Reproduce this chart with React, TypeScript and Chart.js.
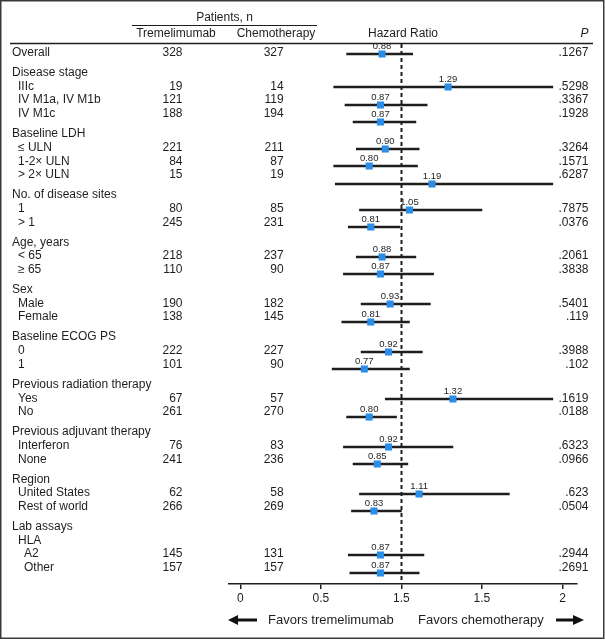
import React, { useEffect, useRef } from "react";
import { Chart, registerables } from "chart.js";

Chart.register(...registerables);

// ---------- data ----------
const rowLabels = [
  "Overall",
  "Disease stage", "IIIc", "IV M1a, IV M1b", "IV M1c",
  "Baseline LDH", "≤ ULN", "1-2× ULN", "> 2× ULN",
  "No. of disease sites", "1", "> 1",
  "Age, years", "< 65", "≥ 65",
  "Sex", "Male", "Female",
  "Baseline ECOG PS", "0", "1",
  "Previous radiation therapy", "Yes", "No",
  "Previous adjuvant therapy", "Interferon", "None",
  "Region", "United States", "Rest of world",
  "Lab assays", "HLA", "A2", "Other",
];
const rowIndent = [0, 0, 1, 1, 1, 0, 1, 1, 1, 0, 1, 1, 0, 1, 1, 0, 1, 1, 0, 1, 1, 0, 1, 1, 0, 1, 1, 0, 1, 1, 0, 1, 2, 2];
const tremeN = [328, null, 19, 121, 188, null, 221, 84, 15, null, 80, 245, null, 218, 110, null, 190, 138, null, 222, 101, null, 67, 261, null, 76, 241, null, 62, 266, null, null, 145, 157];
const chemoN = [327, null, 14, 119, 194, null, 211, 87, 19, null, 85, 231, null, 237, 90, null, 182, 145, null, 227, 90, null, 57, 270, null, 83, 236, null, 58, 269, null, null, 131, 157];
const hazardRatio = [0.88, null, 1.29, 0.87, 0.87, null, 0.9, 0.8, 1.19, null, 1.05, 0.81, null, 0.88, 0.87, null, 0.93, 0.81, null, 0.92, 0.77, null, 1.32, 0.8, null, 0.92, 0.85, null, 1.11, 0.83, null, null, 0.87, 0.87];
const ciLow = [0.66, null, 0.58, 0.65, 0.7, null, 0.72, 0.58, 0.59, null, 0.74, 0.67, null, 0.72, 0.64, null, 0.75, 0.63, null, 0.75, 0.57, null, 0.9, 0.66, null, 0.64, 0.7, null, 0.74, 0.69, null, null, 0.67, 0.68];
const ciHigh = [1.07, null, 1.94, 1.16, 1.09, null, 1.11, 1.1, 1.94, null, 1.5, 0.99, null, 1.09, 1.2, null, 1.18, 1.05, null, 1.13, 1.05, null, 1.94, 0.97, null, 1.32, 1.04, null, 1.67, 1.0, null, null, 1.14, 1.11];
const pValues = [".1267", null, ".5298", ".3367", ".1928", null, ".3264", ".1571", ".6287", null, ".7875", ".0376", null, ".2061", ".3838", null, ".5401", ".119", null, ".3988", ".102", null, ".1619", ".0188", null, ".6323", ".0966", null, ".623", ".0504", null, null, ".2944", ".2691"];
const tickValues = [0, 0.5, 1, 1.5, 2];
const tickLabels = ["0", "0.5", "1.5", "1.5", "2"];
const referenceLine = 1;

// ---------- layout ----------
const W = 605;
const H = 640;
const FONT = "'Liberation Sans', Arial, Helvetica, sans-serif";
const INK = "#1e1e1e";
const BLUE = "#2a8de6";
const PLOT_TOP = 44;
const PLOT_BOTTOM = 584;
const TEXT_STEP = 13.7;
const GROUP_GAP = 20;
const PLOT_STEP = 17.5;
const FIRST_ROW = 52.7;
const PLOT_OFFSET = 1;

function layoutRows() {
  const textY: number[] = [];
  const plotY: (number | null)[] = [];
  let y = FIRST_ROW;
  let runStart = FIRST_ROW;
  let k = 0;
  rowLabels.forEach((_, i) => {
    if (i > 0) y += rowIndent[i] === 0 ? GROUP_GAP : TEXT_STEP;
    textY.push(y);
    if (hazardRatio[i] != null) {
      if (i === 0 || hazardRatio[i - 1] == null) {
        runStart = y;
        k = 0;
      } else k++;
      plotY.push(Math.round(runStart + k * PLOT_STEP + PLOT_OFFSET));
    } else plotY.push(null);
  });
  return { textY, plotY };
}

const { textY, plotY } = layoutRows();
const dataIdx = hazardRatio.map((v, i) => (v == null ? -1 : i)).filter((i) => i >= 0);

const forestPlugin = {
  id: "forestTable",
  beforeDatasetsDraw(chart: any) {
    const ctx = chart.ctx;
    const xs = chart.scales.x;
    const x = Math.round(xs.getPixelForValue(referenceLine)) + 0.5;
    ctx.save();
    ctx.strokeStyle = INK;
    ctx.lineWidth = 2;
    ctx.setLineDash([4, 3]);
    ctx.beginPath();
    ctx.moveTo(x, chart.chartArea.top);
    ctx.lineTo(x, chart.chartArea.bottom);
    ctx.stroke();
    ctx.restore();
  },
  afterDatasetsDraw(chart: any) {
    const ctx = chart.ctx;
    const xs = chart.scales.x;
    const ys = chart.scales.y;
    ctx.save();
    ctx.fillStyle = INK;
    ctx.font = `9.5px ${FONT}`;
    ctx.textAlign = "center";
    ctx.textBaseline = "middle";
    dataIdx.forEach((i) => {
      const hr = hazardRatio[i] as number;
      ctx.fillText(hr.toFixed(2), xs.getPixelForValue(hr), ys.getPixelForValue(plotY[i]) - 8);
    });
    ctx.restore();
  },
  afterDraw(chart: any) {
    const ctx = chart.ctx;
    const ys = chart.scales.y;
    const area = chart.chartArea;
    ctx.save();
    // outer frame
    ctx.strokeStyle = "#3a3a3a";
    ctx.lineWidth = 1.5;
    ctx.strokeRect(0.75, 0.75, W - 2, H - 2.5);

    // header
    ctx.fillStyle = INK;
    ctx.textBaseline = "middle";
    ctx.font = `12px ${FONT}`;
    ctx.textAlign = "center";
    ctx.fillText("Patients, n", 224.5, 17.3);
    ctx.fillText("Tremelimumab", 176, 34);
    ctx.fillText("Chemotherapy", 276, 34);
    ctx.fillText("Hazard Ratio", 403, 34);
    ctx.textAlign = "right";
    ctx.font = `italic 12px ${FONT}`;
    ctx.fillText("P", 588.5, 34);

    ctx.strokeStyle = INK;
    ctx.lineWidth = 1;
    ctx.beginPath();
    ctx.moveTo(132, 25.5);
    ctx.lineTo(317, 25.5);
    ctx.stroke();
    ctx.lineWidth = 1.5;
    ctx.beginPath();
    ctx.moveTo(10, 43.5);
    ctx.lineTo(593, 43.5);
    ctx.stroke();

    // table rows
    ctx.font = `12px ${FONT}`;
    rowLabels.forEach((lab, i) => {
      const y = ys.getPixelForValue(textY[i]);
      ctx.textAlign = "left";
      ctx.fillText(lab, 12 + rowIndent[i] * 6, y);
      ctx.textAlign = "right";
      if (tremeN[i] != null) ctx.fillText(String(tremeN[i]), 182.5, y);
      if (chemoN[i] != null) ctx.fillText(String(chemoN[i]), 283.7, y);
      if (pValues[i] != null) ctx.fillText(pValues[i] as string, 588.5, y);
    });

    // favors row
    const ay = 620;
    ctx.font = `13px ${FONT}`;
    ctx.textAlign = "left";
    ctx.fillText("Favors tremelimumab", 268, ay);
    ctx.fillText("Favors chemotherapy", 418, ay);
    ctx.fillStyle = "#111";
    ctx.strokeStyle = "#111";
    ctx.lineWidth = 3;
    ctx.beginPath();
    ctx.moveTo(236, ay);
    ctx.lineTo(257, ay);
    ctx.moveTo(556, ay);
    ctx.lineTo(575, ay);
    ctx.stroke();
    ctx.beginPath();
    ctx.moveTo(area.left - 1, ay);
    ctx.lineTo(238, ay - 5);
    ctx.lineTo(238, ay + 5);
    ctx.closePath();
    ctx.fill();
    ctx.beginPath();
    ctx.moveTo(584, ay);
    ctx.lineTo(573, ay - 5);
    ctx.lineTo(573, ay + 5);
    ctx.closePath();
    ctx.fill();
    ctx.restore();
  },
};

export default function App() {
  const canvasRef = useRef<HTMLCanvasElement | null>(null);

  useEffect(() => {
    const canvas = canvasRef.current;
    if (!canvas) return;
    const ciData = dataIdx.map((i) => ({ x: [ciLow[i], ciHigh[i]], y: plotY[i] }));
    const hrData = dataIdx.map((i) => ({ x: hazardRatio[i], y: plotY[i] }));
    const chart = new Chart(canvas, {
      type: "bar",
      data: {
        datasets: [
          {
            type: "bar",
            data: ciData as any,
            backgroundColor: INK,
            borderWidth: 0,
            barThickness: 2,
            order: 1,
          } as any,
          {
            type: "scatter",
            data: hrData as any,
            pointStyle: "rect",
            pointRadius: 5,
            pointHoverRadius: 5,
            backgroundColor: BLUE,
            borderWidth: 0,
            order: 0,
          } as any,
        ],
      },
      options: {
        indexAxis: "y",
        animation: false,
        responsive: false,
        events: [],
        layout: { padding: { left: 229, right: 28, top: PLOT_TOP, bottom: 0 } },
        plugins: { legend: { display: false }, tooltip: { enabled: false } },
        scales: {
          x: {
            type: "linear",
            position: "bottom",
            min: -0.07,
            max: 2.09,
            afterBuildTicks: (scale: any) => {
              scale.ticks = tickValues.map((v) => ({ value: v }));
            },
            afterFit: (scale: any) => {
              scale.height = H - PLOT_BOTTOM;
            },
            ticks: {
              callback: (_v: any, idx: number) => tickLabels[idx],
              color: INK,
              font: { family: FONT, size: 12 },
              padding: 2,
              maxRotation: 0,
              autoSkip: false,
            },
            grid: {
              display: true,
              drawOnChartArea: false,
              drawTicks: true,
              tickLength: 5,
              color: INK,
              lineWidth: 1.5,
            },
            border: { display: true, color: INK, width: 1.5 },
          },
          y: {
            type: "linear",
            display: false,
            min: PLOT_TOP,
            max: PLOT_BOTTOM,
            reverse: true,
            offset: false,
          },
        },
      } as any,
      plugins: [forestPlugin],
    });
    return () => chart.destroy();
  }, []);

  return (
    <div style={{ position: "absolute", left: 0, top: 0, width: W, height: H, background: "#fff" }}>
      <canvas ref={canvasRef} width={W} height={H} style={{ display: "block" }} />
    </div>
  );
}
